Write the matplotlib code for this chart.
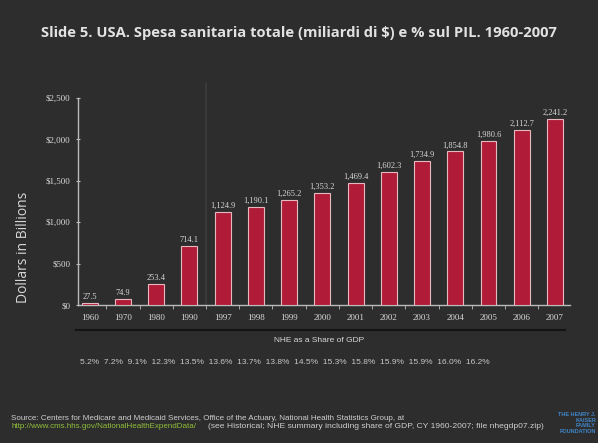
import matplotlib
matplotlib.use("Agg")
import matplotlib.pyplot as plt
import numpy as np

years = ["1960", "1970", "1980", "1990", "1997", "1998", "1999", "2000",
         "2001", "2002", "2003", "2004", "2005", "2006", "2007"]
spending = [27.5, 74.9, 253.4, 714.1, 1124.9, 1190.1, 1265.2, 1353.2,
            1469.4, 1602.3, 1734.9, 1854.8, 1980.6, 2112.7, 2241.2]
gdp_share = [5.2, 7.2, 9.1, 12.3, 13.5, 13.6, 13.7, 13.8,
             14.5, 15.3, 15.8, 15.9, 15.9, 16.0, 16.2]
yticks = [0, 500, 1000, 1500, 2000, 2500]

bg = "#2d2d2d"
fg = "#d8d8d8"
bar_red = "#b01c38"

fig = plt.figure(figsize=(5.98, 4.43), dpi=100, facecolor=bg)
ax = fig.add_axes([0.130, 0.311, 0.823, 0.468], facecolor=bg)

x = np.arange(len(years))
ax.bar(x, spending, width=0.48, color=bar_red, edgecolor="#e8b8c0", linewidth=0.8, zorder=3)

for xi, v in zip(x, spending):
    ax.text(xi, v + 25, f"{v:,.1f}", ha="center", va="bottom", color=fg,
            fontsize=6, family="Liberation Serif", zorder=4)

ax.set_xlim(-0.36, 14.45)
ax.set_ylim(0, 2500)
ax.set_xticks(x)
ax.set_xticklabels(years, family="Liberation Serif", fontsize=6.5, color=fg)
ax.set_xticks(x[:-1] + 0.5, minor=True)
ax.set_yticks(yticks)
ax.set_yticklabels([f"${t:,}" for t in yticks], family="Liberation Serif",
                   fontsize=6.5, color=fg)
ax.tick_params(axis="x", which="major", length=0, pad=6)
ax.tick_params(axis="x", which="minor", length=3, color="#bbbbbb", direction="out")
ax.tick_params(axis="y", length=3, color="#bbbbbb", direction="inout", pad=4)

for side in ["top", "right"]:
    ax.spines[side].set_visible(False)
for side in ["left", "bottom"]:
    ax.spines[side].set_color("#bbbbbb")
    ax.spines[side].set_linewidth(1.0)

# faint divider between the decade bars and the yearly bars
ax.plot([3.5, 3.5], [0, 2680], color="#3c3c3c", lw=1.2, clip_on=False, zorder=1)

ax.set_ylabel("Dollars in Billions", color=fg, fontsize=10, family="Open Sans")
ax.yaxis.set_label_coords(-0.095, 0.28)

fig.text(0.50, 0.925, "Slide 5. USA. Spesa sanitaria totale (miliardi di $) e % sul PIL. 1960-2007",
         ha="center", va="center", color="#e2e2e2", fontsize=10.6, fontweight="bold",
         family="Open Sans")

# dark rule under the year labels
fig.add_artist(plt.Line2D([76 / 598, 565 / 598], [1 - 330 / 443, 1 - 330 / 443],
                          color="#141414", lw=1.5))

fig.text(319 / 598, 1 - 341 / 443, "NHE as a Share of GDP", ha="center", va="center",
         color=fg, fontsize=6, family="Liberation Sans")
fig.text(80 / 598, 1 - 362 / 443, "  ".join(f"{s:.1f}%" for s in gdp_share),
         ha="left", va="center", color="#c8c8c8", fontsize=6.0, family="Liberation Sans")

fig.text(11 / 598, 1 - 418 / 443,
         "Source: Centers for Medicare and Medicaid Services, Office of the Actuary, "
         "National Health Statistics Group, at",
         ha="left", va="center", color="#cfcfcf", fontsize=5.8, family="Liberation Sans")
fig.text(11 / 598, 1 - 427 / 443,
         "http://www.cms.hhs.gov/NationalHealthExpendData/",
         ha="left", va="center", color="#8fbf3a", fontsize=5.8, family="Liberation Sans")
fig.text(208 / 598, 1 - 427 / 443,
         "(see Historical; NHE summary including share of GDP, CY 1960-2007; file nhegdp07.zip)",
         ha="left", va="center", color="#cfcfcf", fontsize=6.1, family="Liberation Sans")

fig.text(596 / 598, 1 - 423 / 443, "THE HENRY J.\nKAISER\nFAMILY\nFOUNDATION",
         ha="right", va="center", color="#3f86c8", fontsize=4.0, fontweight="bold",
         family="Liberation Sans", linespacing=1.1)

fig.savefig("out.png", dpi=100, facecolor=bg)
